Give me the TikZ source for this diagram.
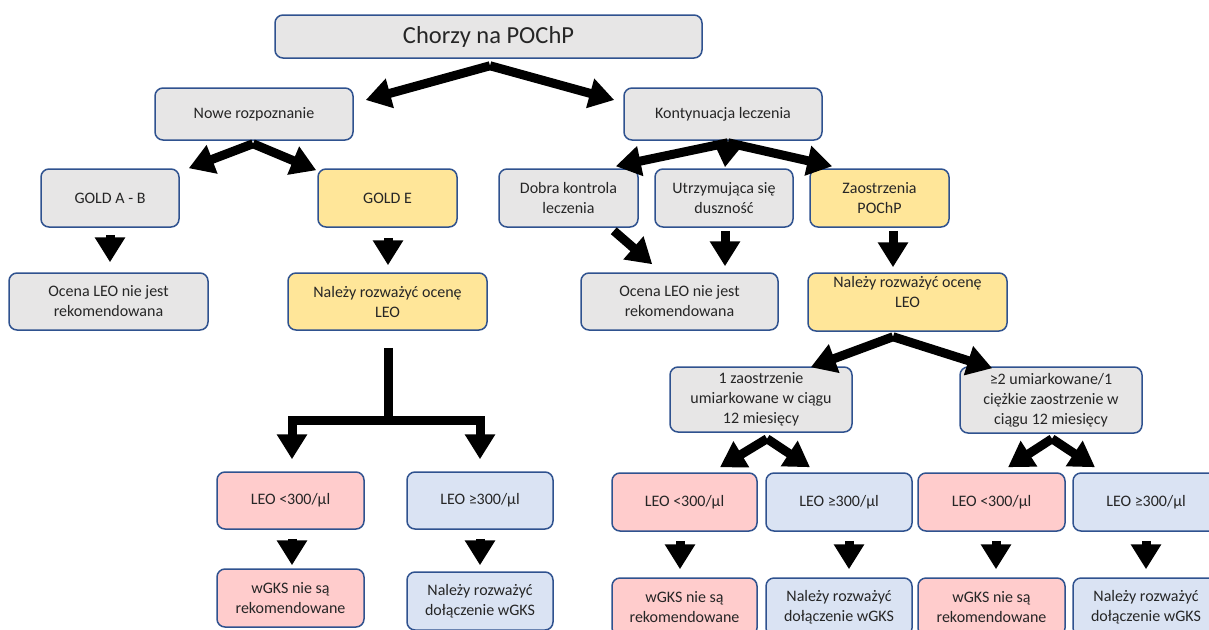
\documentclass[tikz,border=0pt]{standalone}
\usepackage{fontspec}
\setmainfont{Carlito}
\usetikzlibrary{arrows.meta,calc}
\definecolor{bordc}{HTML}{2F528F}
\definecolor{txtc}{HTML}{262626}
\definecolor{grayf}{HTML}{E7E6E6}
\definecolor{yellf}{HTML}{FFE699}
\definecolor{pinkf}{HTML}{FFCCCC}
\definecolor{bluef}{HTML}{DAE3F3}
\begin{document}
\begin{tikzpicture}[x=1pt,y=-1pt,
  box/.style={draw=bordc,line width=1.5pt,rounded corners=8pt,align=center,inner sep=0pt,
    text=txtc,font=\fontsize{16}{20}\selectfont},
  sz/.style 2 args={minimum width=#1pt,minimum height=#2pt},
  gbox/.style={box,fill=grayf},
  ybox/.style={box,fill=yellf},
  pbox/.style={box,fill=pinkf},
  bbox/.style={box,fill=bluef},
  bigarrow/.style={line width=9pt,draw=black,-{Triangle[width=29pt,length=25pt]}},
  barline/.style={line width=9pt,draw=black}]
\useasboundingbox (0,0) rectangle (1209,629);
\clip (0,0) rectangle (1209,629);

% nodes
\node[gbox,sz={427}{43},font=\fontsize{24.5}{28}\selectfont] (top) at (488.5,36.5) {Chorzy na POChP};
\node[gbox,sz={198}{52}] (nowe) at (254,114) {Nowe rozpoznanie};
\node[gbox,sz={198}{52}] (kont) at (723,114) {Kontynuacja leczenia};

\node[gbox,sz={138}{58}] (goldab) at (110,198) {GOLD A - B};
\node[ybox,sz={139}{58}] (golde) at (387.5,198) {GOLD E};
\node[gbox,sz={199}{57}] (ocena1) at (108.5,301.5) {Ocena LEO nie jest\\rekomendowana};
\node[ybox,sz={199}{57}] (nalezy1) at (387.5,301.5) {Należy rozważyć ocenę\\LEO};

\node[gbox,sz={139}{58}] (dobra) at (568.5,198) {Dobra kontrola\\leczenia};
\node[gbox,sz={138}{58}] (utrz) at (724,198) {Utrzymująca się\\duszność};
\node[ybox,sz={139}{58}] (zaos) at (879.5,198) {Zaostrzenia\\POChP};
\node[gbox,sz={197}{57}] (ocena2) at (679.5,301.5) {Ocena LEO nie jest\\rekomendowana};
\node[ybox,sz={199}{58}] (nalezy2) at (907.5,302) {Należy rozważyć ocenę\\LEO\\\mbox{}};

\node[gbox,sz={182}{65}] (zao1) at (761,399.5) {1 zaostrzenie\\umiarkowane w ciągu\\12 miesięcy};
\node[gbox,sz={182}{66}] (zao2) at (1051,400) {≥2 umiarkowane/1\\ciężkie zaostrzenie w\\ciągu 12 miesięcy};

\node[pbox,sz={147}{57}] (leoL1) at (290.5,500.5) {LEO <300/µl};
\node[bbox,sz={146}{57}] (leoL2) at (480,500.5) {LEO ≥300/µl};
\node[pbox,sz={147}{58}] (gksL1) at (290.5,598) {wGKS nie są\\rekomendowane};
\node[bbox,sz={146}{58}] (gksL2) at (480,601) {Należy rozważyć\\dołączenie wGKS};

\node[pbox,sz={145}{58}] (leoR1) at (684.5,502) {LEO <300/µl};
\node[bbox,sz={146}{58}] (leoR2) at (839,502) {LEO ≥300/µl};
\node[pbox,sz={147}{58}] (leoR3) at (991.5,502) {LEO <300/µl};
\node[bbox,sz={146}{58}] (leoR4) at (1146,502) {LEO ≥300/µl};
\node[pbox,sz={145}{58}] (gksR1) at (684.5,607) {wGKS nie są\\rekomendowane};
\node[bbox,sz={146}{58}] (gksR2) at (839,607) {Należy rozważyć\\dołączenie wGKS};
\node[pbox,sz={147}{58}] (gksR3) at (991.5,607) {wGKS nie są\\rekomendowane};
\node[bbox,sz={146}{58}] (gksR4) at (1146,607) {Należy rozważyć\\dołączenie wGKS};

% arrows
\coordinate (j1) at ($(top.south)+(1.5,7)$);
\draw[bigarrow] (j1) -- ($(nowe.east)+(12,-14)$);
\draw[bigarrow] (j1) -- ($(kont.west)+(-9,-14)$);

\coordinate (j2) at ($(nowe.south)+(-1,3)$);
\draw[bigarrow] (j2) -- ($(goldab.north east)+(9,0)$);
\draw[bigarrow] (j2) -- ($(golde.north west)+(-1,2)$);

\coordinate (j3) at ($(kont.south)+(5,2)$);
\draw[bigarrow] (j3) -- ($(dobra.north east)+(-23,-2)$);
\draw[bigarrow] (j3) -- ($(utrz.north)+(1,-1)$);
\draw[bigarrow] (j3) -- ($(zaos.north west)+(23,-2)$);

\draw[bigarrow] ($(goldab.south)+(0,7)$) -- ($(ocena1.north)+(1.5,-10)$);
\draw[bigarrow] ($(golde.south)+(0.5,10)$) -- ($(nalezy1.north)+(0.5,-7)$);

\draw[bigarrow] ($(dobra.south east)+(-25,3)$) -- ($(ocena2.north west)+(72,-8)$);
\draw[bigarrow] ($(utrz.south)+(1,3)$) -- ($(ocena2.north -| utrz.south)+(1,-6)$);
\draw[bigarrow] ($(zaos.south)+(13.5,3)$) -- ($(nalezy2.north)+(-14.5,-5)$);

\coordinate (j4) at ($(nalezy2.south)+(-14.5,5)$);
\draw[bigarrow] (j4) -- ($(zao1.north east)+(-42,1)$);
\draw[bigarrow] (j4) -- ($(zao2.north west)+(33,2)$);

% elbow from left "Należy rozważyć ocenę LEO"
\coordinate (e0) at ($(nalezy1.south)+(0.5,17)$);
\coordinate (e1) at ($(nalezy1.south)+(0.5,90)$);
\draw[barline] (e0) -- (e1);
\draw[bigarrow,line join=miter] ([xshift=4.5pt]e1) -| ($(leoL1.north)+(1.5,-12)$);
\draw[bigarrow,line join=miter] ([xshift=-4.5pt]e1) -| ($(leoL2.north)+(0,-12)$);

\draw[bigarrow] ($(leoL1.south)+(1.5,9)$) -- ($(gksL1.north)+(1.5,-3)$);
\draw[bigarrow] ($(leoL2.south)+(0,9)$) -- ($(gksL2.north)+(0,-6)$);

\coordinate (j5) at ($(zao1.south)+(6,6)$);
\draw[bigarrow] (j5) -- ($(leoR1.north)+(35.5,-5)$);
\draw[bigarrow] (j5) -- ($(leoR2.north)+(-29,-5)$);
\coordinate (j6) at ($(zao2.south)+(1,5)$);
\draw[bigarrow] (j6) -- ($(leoR3.north)+(16.5,-5)$);
\draw[bigarrow] (j6) -- ($(leoR4.north)+(-51,-5)$);

\draw[bigarrow] ($(leoR1.south)+(-4.5,9)$) -- ($(gksR1.north)+(-4.5,-8)$);
\draw[bigarrow] ($(leoR2.south)+(10,9)$) -- ($(gksR2.north)+(10,-8)$);
\draw[bigarrow] ($(leoR3.south)+(4.5,9)$) -- ($(gksR3.north)+(4.5,-8)$);
\draw[bigarrow] ($(leoR4.south)+(0,9)$) -- ($(gksR4.north)+(0,-8)$);
\end{tikzpicture}
\end{document}
